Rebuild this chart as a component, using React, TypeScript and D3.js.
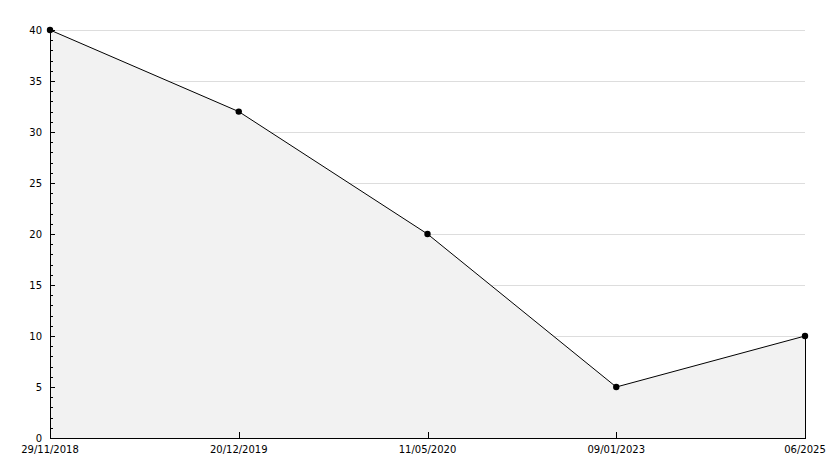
import React from "react";
import * as d3 from "d3";

const categories = ["29/11/2018", "20/12/2019", "11/05/2020", "09/01/2023", "06/2025"];
const values = [40, 32, 20, 5, 10];
const yTicks = [0, 5, 10, 15, 20, 25, 30, 35, 40];
const yMinorTicks = d3.range(0, 41, 1);

export default function App() {
  const W = 834, H = 468;
  const left = 50, right = 805, top = 30, bottom = 438;
  const x = d3.scalePoint<string>().domain(categories).range([left, right]);
  const y = d3.scaleLinear().domain([0, 40]).range([bottom, top]);
  const pts = categories.map((c, i) => [x(c)!, y(values[i])] as [number, number]);
  const line = d3.line<[number, number]>()(pts)!;
  const area = d3.area<[number, number]>().x(d => d[0]).y0(bottom).y1(d => d[1])(pts)!;
  const font = "DejaVu Sans, sans-serif";
  return (
    <svg width={W} height={H} style={{ position: "absolute", left: 0, top: 0, background: "#fff" }}>
      <rect x={0} y={0} width={W} height={H} fill="#fff" />
      {yTicks.filter(t => t > 0).map(t => (
        <line key={"g" + t} x1={left} x2={right} y1={Math.round(y(t)) + 0.5} y2={Math.round(y(t)) + 0.5} stroke="#dddddd" />
      ))}
      <path d={area} fill="#f2f2f2" />
      <line x1={right + 0.5} x2={right + 0.5} y1={y(values[values.length - 1])} y2={bottom} stroke="#000" />
      <path d={line} fill="none" stroke="#000" strokeWidth={1} />
      {yMinorTicks.map(t => (
        <line key={"m" + t} x1={left} x2={t % 5 === 0 ? left + 5 : left + 3} y1={Math.round(y(t)) + 0.5} y2={Math.round(y(t)) + 0.5} stroke="#000" />
      ))}
      {categories.map(c => (
        <line key={"xt" + c} x1={Math.round(x(c)!) + 0.5} x2={Math.round(x(c)!) + 0.5} y1={bottom} y2={bottom - 6} stroke="#000" />
      ))}
      <line x1={left + 0.5} x2={left + 0.5} y1={top} y2={bottom + 1} stroke="#000" />
      <line x1={left} x2={right + 1} y1={bottom + 0.5} y2={bottom + 0.5} stroke="#000" />
      {pts.map((p, i) => (
        <circle key={"p" + i} cx={p[0]} cy={p[1]} r={3.2} fill="#000" />
      ))}
      {yTicks.map(t => (
        <text key={"yl" + t} x={42} y={y(t) + 4} textAnchor="end" fontFamily={font} fontSize={10} fill="#000">{t}</text>
      ))}
      {categories.map(c => (
        <text key={"xl" + c} x={x(c)!} y={453} textAnchor="middle" fontFamily={font} fontSize={10} fill="#000">{c}</text>
      ))}
    </svg>
  );
}
